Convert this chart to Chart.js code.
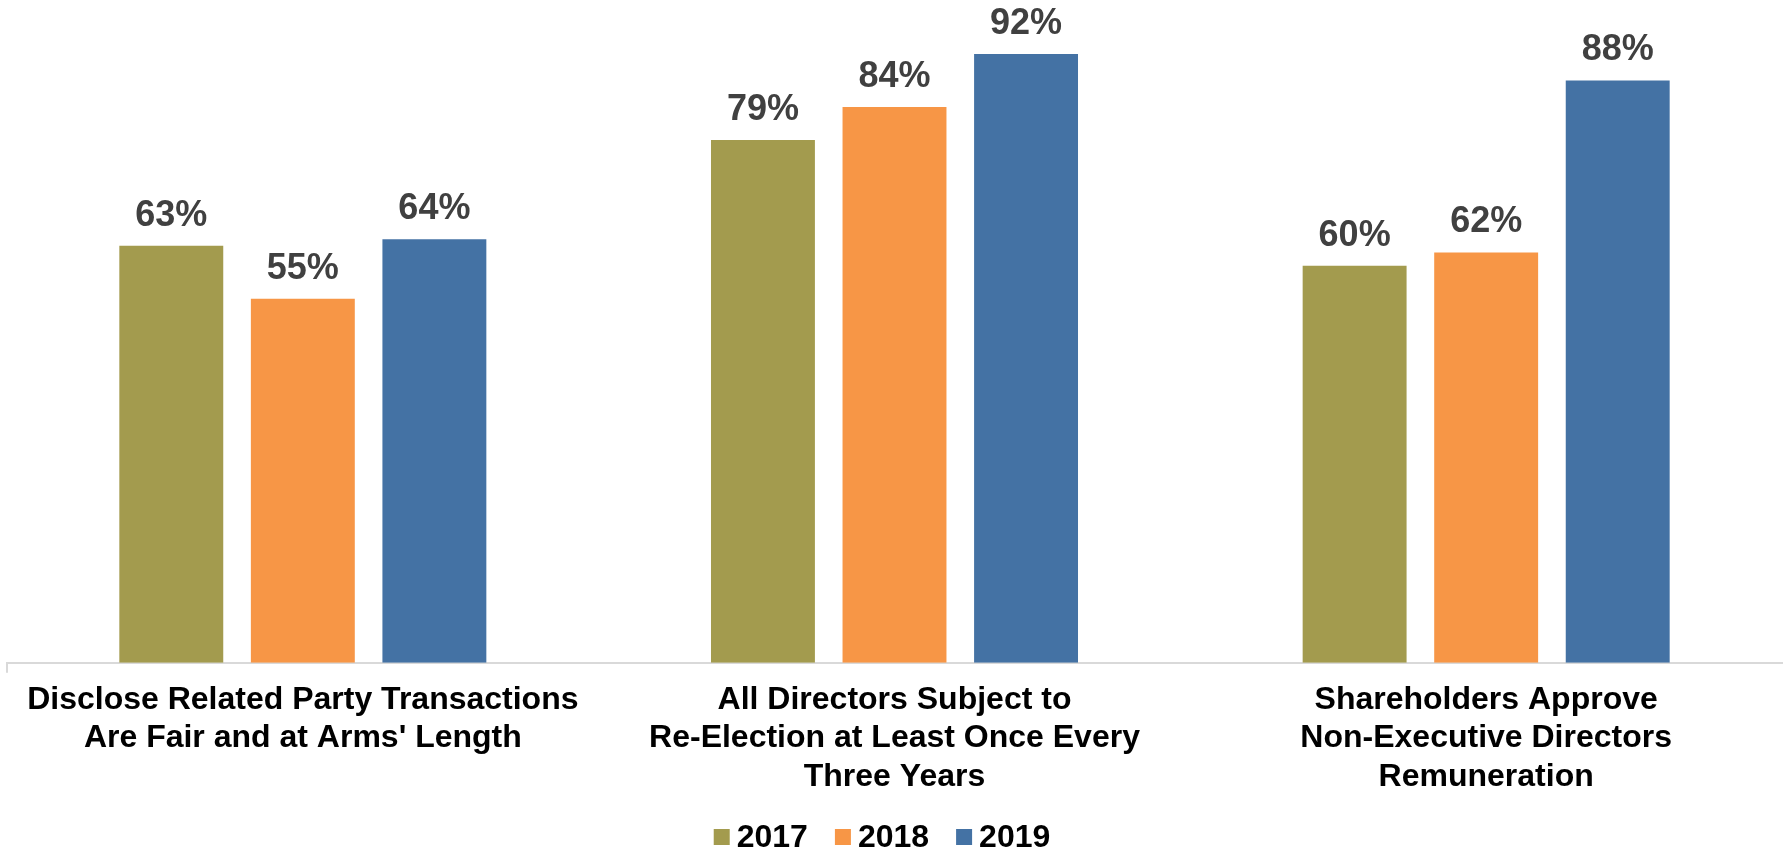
<!DOCTYPE html>
<html>
<head>
<meta charset="utf-8">
<script src="https://cdn.jsdelivr.net/npm/chart.js@4.4.1/dist/chart.umd.min.js"></script>
<style>
  html, body { margin: 0; padding: 0; background: #fff; }
  #wrap { width: 1789px; height: 849px; }
</style>
</head>
<body>
<div id="wrap"><canvas id="chart" width="1789" height="849"></canvas></div>
<script>
const categories = [
  ['Disclose Related Party Transactions', "Are Fair and at Arms' Length"],
  ['All Directors Subject to', 'Re-Election at Least Once Every', 'Three Years'],
  ['Shareholders Approve', 'Non-Executive Directors', 'Remuneration']
]
const years = ['2017', '2018', '2019']
const values2017 = [63, 79, 60]
const values2018 = [55, 84, 62]
const values2019 = [64, 92, 88]
const colors = ['#A39B4E', '#F79646', '#4472A4']

const FONT = '"Liberation Sans", Arial, sans-serif'
Chart.defaults.font.family = FONT

// value labels above each bar
const barLabels = {
  id: 'barLabels',
  afterDatasetsDraw(chart) {
    const ctx = chart.ctx
    ctx.save()
    ctx.font = 'bold 36px ' + FONT
    ctx.fillStyle = '#404040'
    ctx.textAlign = 'center'
    ctx.textBaseline = 'alphabetic'
    chart.data.datasets.forEach((ds, i) => {
      chart.getDatasetMeta(i).data.forEach((bar, j) => {
        ctx.fillText(ds.data[j] + '%', bar.x, bar.y - 20)
      })
    })
    ctx.restore()
  }
}

// legend with a tighter box-to-text gap than the built-in one
const bottomLegend = {
  id: 'bottomLegend',
  afterDraw(chart) {
    const ctx = chart.ctx
    ctx.save()
    ctx.font = 'bold 32px ' + FONT
    ctx.textBaseline = 'alphabetic'
    ctx.textAlign = 'left'
    const box = 16, gap = 7, spacing = 27
    const items = chart.data.datasets.map(ds => ({
      label: ds.label, color: ds.backgroundColor, w: box + gap + ctx.measureText(ds.label).width
    }))
    const total = items.reduce((s, it) => s + it.w, 0) + spacing * (items.length - 1)
    let x = 882 - total / 2
    const baseline = 847
    items.forEach(it => {
      ctx.fillStyle = it.color
      ctx.fillRect(x, baseline - 18, box, box)
      ctx.fillStyle = '#000'
      ctx.fillText(it.label, x + box + gap, baseline)
      x += it.w + spacing
    })
    ctx.restore()
  }
}

new Chart(document.getElementById('chart'), {
  type: 'bar',
  data: {
    labels: categories,
    datasets: [
      { label: years[0], data: values2017, backgroundColor: colors[0] },
      { label: years[1], data: values2018, backgroundColor: colors[1] },
      { label: years[2], data: values2019, backgroundColor: colors[2] }
    ]
  },
  options: {
    responsive: false,
    animation: false,
    devicePixelRatio: 1,
    categoryPercentage: 0.667,
    barPercentage: 0.79,
    layout: { padding: { left: 7, right: 7, top: 1, bottom: 45 } },
    scales: {
      x: {
        grid: {
          drawOnChartArea: false,
          tickLength: 10,
          lineWidth: 2,
          tickColor: (c) => c.index === 0 ? '#d9d9d9' : 'rgba(0,0,0,0)'
        },
        border: { color: '#d9d9d9', width: 2 },
        ticks: {
          color: '#000',
          padding: 8,
          maxRotation: 0,
          autoSkip: false,
          font: { size: 32, weight: 'bold', lineHeight: 1.2 }
        }
      },
      y: {
        display: false,
        min: 0,
        max: 100
      }
    },
    plugins: {
      legend: { display: false },
      tooltip: { enabled: false }
    }
  },
  plugins: [barLabels, bottomLegend]
})
</script>
</body>
</html>
